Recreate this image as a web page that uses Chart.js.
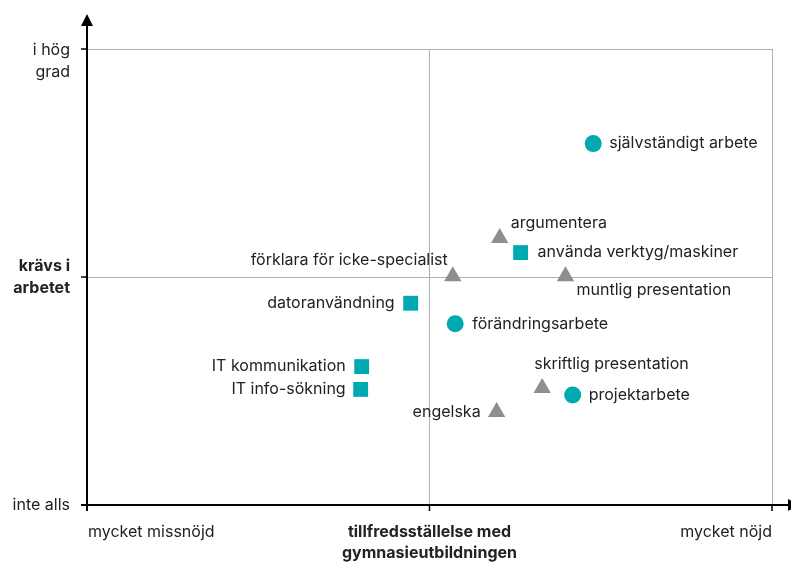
<!DOCTYPE html>
<html>
<head>
<meta charset="utf-8">
<script src="https://cdn.jsdelivr.net/npm/chart.js@4"></script>
<style>
  body { margin: 0; background: #fff; }
  #chart { display: block; }
</style>
</head>
<body>
<canvas id="chart" width="791" height="564"></canvas>
<script>
// Data
const skills = ['självständigt arbete', 'argumentera', 'använda verktyg/maskiner', 'förklara för icke-specialist',
  'muntlig presentation', 'datoranvändning', 'förändringsarbete', 'IT kommunikation', 'IT info-sökning',
  'skriftlig presentation', 'projektarbete', 'engelska'];
const satisfaction = [0.478, 0.205, 0.266, 0.068, 0.397, -0.055, 0.075, -0.198, -0.201, 0.329, 0.418, 0.196];
const required = [0.585, 0.171, 0.107, 0.003, 0.003, -0.115, -0.205, -0.393, -0.493, -0.487, -0.518, -0.592];
const kinds = ['circle', 'triangle', 'rect', 'triangle', 'triangle', 'rect', 'circle', 'rect', 'rect', 'triangle', 'circle', 'triangle'];

const xTickLabels = ['mycket missnöjd', ['tillfredsställelse med', 'gymnasieutbildningen'], 'mycket nöjd'];
const yTickLabels = ['inte alls', ['krävs i', 'arbetet'], ['i hög', 'grad']];

// label placement next to each marker: [dx, dy, align]
const labelPlace = [[16, 0, 'left'], [11, -15, 'left'], [17, 0, 'left'], [-5, -16, 'right'],
  [11, 14, 'left'], [-16, 0, 'right'], [17, 0, 'left'], [-16, 0, 'right'], [-15, 0, 'right'],
  [-8, -24, 'left'], [16, 0, 'left'], [-16, 0, 'right']];

const TEAL = '#00a9b1';
const GREY = '#8e8e8e';
const FONT = '16px Inter, "Liberation Sans", sans-serif';
const BOLD = 'bold 16px Inter, "Liberation Sans", sans-serif';

function buildDataset(kind, color, radius) {
  const pts = [];
  skills.forEach((name, i) => {
    if (kinds[i] === kind) pts.push({ x: satisfaction[i], y: required[i], idx: i });
  });
  return {
    data: pts,
    pointStyle: kind,
    pointRadius: radius,
    pointHoverRadius: radius,
    backgroundColor: color,
    borderWidth: 0,
  };
}

// Axes, arrows, tick labels and point labels
const drawExtras = {
  id: 'drawExtras',
  beforeDatasetsDraw(chart) {
    const ctx = chart.ctx;
    const xs = chart.scales.x;
    const ys = chart.scales.y;
    const x0 = xs.getPixelForValue(-1);
    const y0 = ys.getPixelForValue(-1);
    ctx.save();
    ctx.strokeStyle = '#000';
    ctx.fillStyle = '#000';
    ctx.lineWidth = 2;
    // y axis
    ctx.beginPath();
    ctx.moveTo(x0, y0 + 6);
    ctx.lineTo(x0, 24);
    ctx.stroke();
    ctx.beginPath();
    ctx.moveTo(x0, 14);
    ctx.lineTo(x0 - 6, 26);
    ctx.lineTo(x0 + 6, 26);
    ctx.closePath();
    ctx.fill();
    // x axis
    ctx.beginPath();
    ctx.moveTo(x0 - 6, y0);
    ctx.lineTo(791, y0);
    ctx.stroke();
    ctx.beginPath();
    ctx.moveTo(800, y0);
    ctx.lineTo(788, y0 - 6);
    ctx.lineTo(788, y0 + 6);
    ctx.closePath();
    ctx.fill();
    // ticks
    ctx.lineWidth = 1.5;
    [0, 1].forEach(v => {
      const yp = ys.getPixelForValue(v);
      ctx.beginPath();
      ctx.moveTo(x0 - 6, yp);
      ctx.lineTo(x0, yp);
      ctx.stroke();
      const xp = xs.getPixelForValue(v);
      ctx.beginPath();
      ctx.moveTo(xp, y0);
      ctx.lineTo(xp, y0 + 6);
      ctx.stroke();
    });

    // tick labels
    ctx.fillStyle = '#222';
    ctx.textBaseline = 'middle';
    ctx.textAlign = 'right';
    yTickLabels.forEach((lab, i) => {
      const yp = ys.getPixelForValue(i - 1);
      const lines = Array.isArray(lab) ? lab : [lab];
      ctx.font = i === 1 ? BOLD : FONT;
      let start = yp - (lines.length - 1) * 11;
      if (i === 2) start = yp + 1;
      lines.forEach((t, k) => ctx.fillText(t, 70, start + k * 22));
    });
    const xAlign = ['left', 'center', 'right'];
    xTickLabels.forEach((lab, i) => {
      const xp = xs.getPixelForValue(i - 1);
      const lines = Array.isArray(lab) ? lab : [lab];
      ctx.font = i === 1 ? BOLD : FONT;
      ctx.textAlign = xAlign[i];
      lines.forEach((t, k) => ctx.fillText(t, xp + (i === 0 ? 1 : 0), y0 + 27 + k * 21));
    });
    ctx.restore();
  },
  afterDatasetsDraw(chart) {
    const ctx = chart.ctx;
    ctx.save();
    ctx.font = FONT;
    ctx.fillStyle = '#222';
    ctx.textBaseline = 'middle';
    chart.data.datasets.forEach((ds, d) => {
      const meta = chart.getDatasetMeta(d);
      meta.data.forEach((el, j) => {
        const i = ds.data[j].idx;
        const [dx, dy, align] = labelPlace[i];
        ctx.textAlign = align;
        ctx.fillText(skills[i], el.x + dx, el.y + dy);
      });
    });
    ctx.restore();
  }
};

new Chart(document.getElementById('chart'), {
  type: 'scatter',
  data: {
    datasets: [
      buildDataset('circle', TEAL, 8.5),
      buildDataset('rect', TEAL, 10.5),
      buildDataset('triangle', GREY, 10),
    ],
  },
  options: {
    responsive: false,
    animation: false,
    events: [],
    layout: { padding: { left: 87, right: 19, top: 49, bottom: 59 } },
    plugins: { legend: { display: false }, tooltip: { enabled: false } },
    scales: {
      x: {
        min: -1, max: 1,
        ticks: { display: false, stepSize: 1 },
        grid: { color: '#b0b0b0', lineWidth: 1, drawTicks: false },
        border: { display: false },
        afterFit(scale) { scale.height = 0; },
      },
      y: {
        min: -1, max: 1,
        ticks: { display: false, stepSize: 1 },
        grid: { color: '#b0b0b0', lineWidth: 1, drawTicks: false },
        border: { display: false },
        afterFit(scale) { scale.width = 0; },
      },
    },
  },
  plugins: [drawExtras],
});
</script>
</body>
</html>
